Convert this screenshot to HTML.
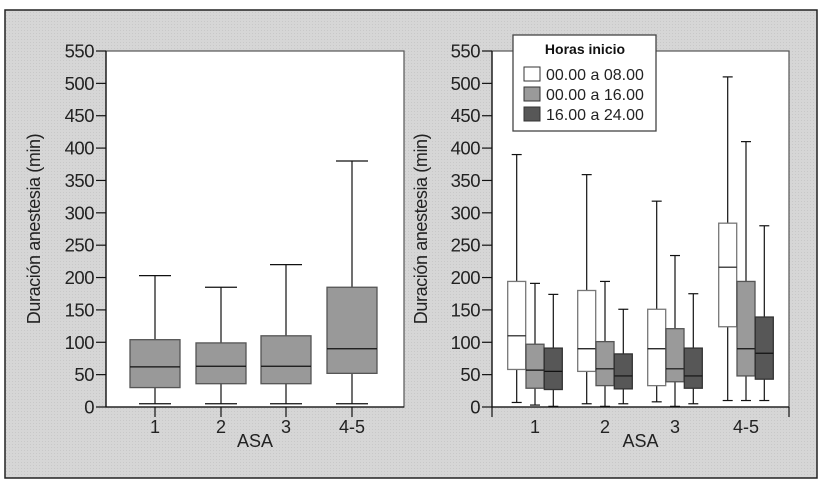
<!DOCTYPE html>
<html><head><meta charset="utf-8"><style>
body{margin:0;background:#fff;}
svg{display:block;font-family:"Liberation Sans",sans-serif;}
</style></head><body>
<svg width="826" height="488" viewBox="0 0 826 488">
<defs><pattern id="tex" width="3" height="3" patternUnits="userSpaceOnUse"><rect width="3" height="3" fill="#d6d6d6"/><rect width="1" height="1" fill="#c8c8c8"/></pattern></defs>
<rect x="5" y="10" width="812" height="468" fill="url(#tex)" stroke="#222" stroke-width="1.5"/>
<g id="left"></g>
<g id="right"></g>
</svg>
<script>
const yTicks=[0,50,100,150,200,250,300,350,400,450,500,550];
const categories=["1","2","3","4-5"];
const leftMin=[5,5,5,5];
const leftQ1=[30,36,36,52];
const leftMed=[62,63,63,90];
const leftQ3=[104,99,110,185];
const leftMax=[203,185,220,380];
const seriesNames=["00.00 a 08.00","00.00 a 16.00","16.00 a 24.00"];
const rMin=[[7,5,8,10],[3,1,1,10],[1,5,5,10]];
const rQ1=[[58,55,33,124],[29,33,39,48],[27,28,29,43]];
const rMed=[[110,90,90,216],[57,59,59,90],[55,48,48,83]];
const rQ3=[[194,180,151,284],[97,101,121,194],[91,82,91,139]];
const rMax=[[390,359,318,510],[191,194,234,410],[174,151,175,280]];
const fills=["#ffffff","#9a9a9a","#575757"];
const strokes=["#777","#555","#333"];

const NS="http://www.w3.org/2000/svg";
function el(p,t,a){const e=document.createElementNS(NS,t);for(const k in a)e.setAttribute(k,a[k]);p.appendChild(e);return e;}
const y0=407,y1=51;
function yS(v){return y0-(v/550)*(y0-y1);}

function axes(g,xl,xr,title,tx,catX,tickXs){
  const pa=el(g,'rect',{x:xl,y:y1,width:xr-xl,height:y0-y1,fill:'#fff',stroke:'#555','stroke-width':1.2});
  
  
  el(g,'line',{x1:xl,y1:y1,x2:xl,y2:y0,stroke:'#111','stroke-width':1.3});
  el(g,'line',{x1:xl,y1:y0,x2:xr,y2:y0,stroke:'#111','stroke-width':1.3});
  yTicks.forEach(v=>{
    el(g,'line',{x1:xl-10,x2:xl,y1:yS(v),y2:yS(v),stroke:'#111','stroke-width':1.2});
    const t=el(g,'text',{x:xl-12,y:yS(v)+6.5,'text-anchor':'end','font-size':18.5,fill:'#222','letter-spacing':'-0.5'});
    t.textContent=v;
    
    
  });
  tickXs.forEach(x=>el(g,'line',{x1:x,x2:x,y1:y0,y2:y0+10,stroke:'#111','stroke-width':1.2}));
  categories.forEach((c,i)=>{
    const t=el(g,'text',{x:catX[i],y:y0+26,'text-anchor':'middle','font-size':18,fill:'#222'});
    t.textContent=c;
    
    
  });
  const xt=el(g,'text',{x:(xl+xr)/2,y:y0+40,'text-anchor':'middle','font-size':18,fill:'#222'});
  xt.textContent="ASA";
  
  
  const yt=el(g,'text',{x:0,y:0,'text-anchor':'middle','font-size':18,fill:'#222','letter-spacing':'-0.4',transform:`translate(${tx},${(y0+y1)/2}) rotate(-90)`});
  yt.textContent="Duración anestesia (min)";
  
  
}
function box(g,cx,w,cap,mn,q1,md,q3,mx,fill,stroke){
  const b=el(g,'g',{});
  
  
  el(b,'line',{x1:cx,x2:cx,y1:yS(mx),y2:yS(mn),stroke:'#111','stroke-width':1.2});
  el(b,'line',{x1:cx-cap/2,x2:cx+cap/2,y1:yS(mx),y2:yS(mx),stroke:'#111','stroke-width':1.2});
  el(b,'line',{x1:cx-cap/2,x2:cx+cap/2,y1:yS(mn),y2:yS(mn),stroke:'#111','stroke-width':1.2});
  el(b,'rect',{x:cx-w/2,y:yS(q3),width:w,height:yS(q1)-yS(q3),fill:fill,stroke:stroke,'stroke-width':1.3});
  el(b,'line',{x1:cx-w/2,x2:cx+w/2,y1:yS(md),y2:yS(md),stroke:'#111','stroke-width':1.2});
}
// left
const L=document.getElementById('left');
const lx=[155,221,286,352];
axes(L,106,404,"",40,lx,lx);
categories.forEach((c,i)=>box(L,lx[i],50,32,leftMin[i],leftQ1[i],leftMed[i],leftQ3[i],leftMax[i],"#999","#555"));
// right
const R=document.getElementById('right');
const rx=[535,605,675,746];
axes(R,492,789,"",427,rx,[492,789]);
categories.forEach((c,i)=>{for(let s=0;s<3;s++){box(R,rx[i]+(s-1)*18.3,18,10,rMin[s][i],rQ1[s][i],rMed[s][i],rQ3[s][i],rMax[s][i],fills[s],strokes[s]);}});
// legend
const lg=el(R,'g',{});


el(lg,'rect',{x:513,y:35,width:143,height:96,fill:'#fff',stroke:'#444','stroke-width':1.3});
const lt=el(lg,'text',{x:585,y:54,'text-anchor':'middle','font-size':14,'font-weight':'bold',fill:'#111'});
lt.textContent="Horas inicio";
seriesNames.forEach((n,s)=>{
  const e=el(lg,'g',{});
  
  
  el(e,'rect',{x:524,y:67+s*20,width:16,height:14,fill:fills[s],stroke:'#333','stroke-width':1});
  const t=el(e,'text',{x:546,y:80+s*20,'font-size':16,fill:'#222'});
  t.textContent=n;
});
</script>
</body></html>
